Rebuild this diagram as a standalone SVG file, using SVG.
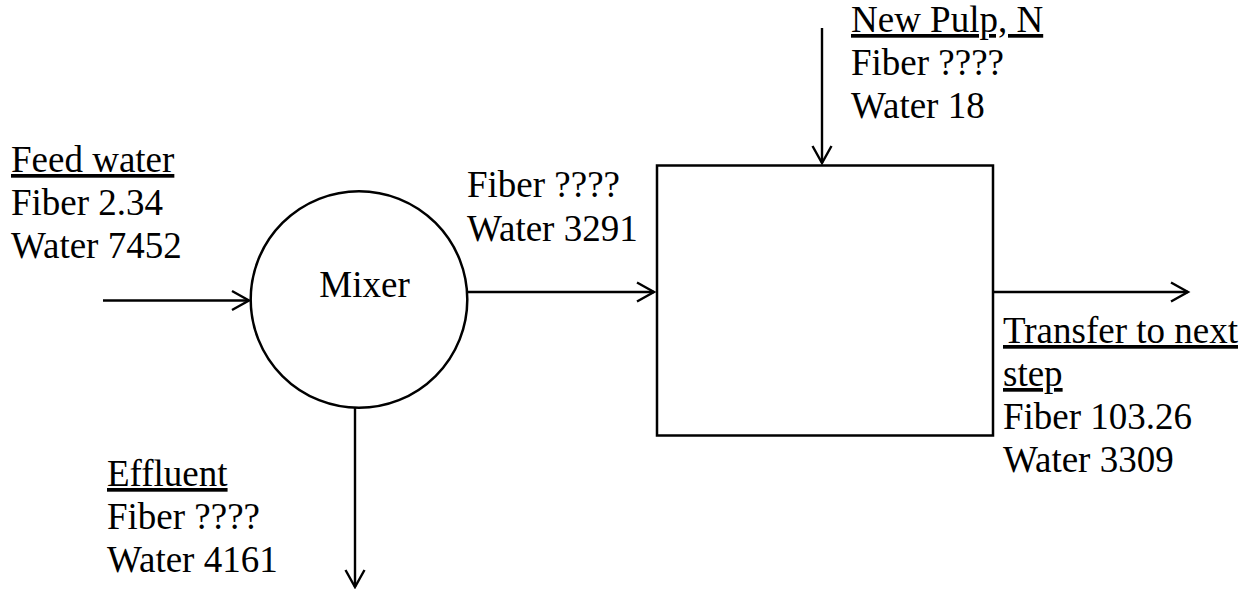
<svg xmlns="http://www.w3.org/2000/svg" width="1257" height="589" viewBox="0 0 1257 589">
<defs>
<marker id="arr" markerUnits="userSpaceOnUse" markerWidth="24" markerHeight="24" viewBox="-20 -12 24 24" refX="0" refY="0" orient="auto" overflow="visible">
<polyline points="-17,-9.5 0,0 -17,9.5" fill="none" stroke="#000" stroke-width="2.4"/>
</marker>
<style>
text{font-size:37px;fill:#000}
.u{text-decoration:underline}
.shape{fill:#fff;stroke:#000;stroke-width:2.5}
.conn{fill:none;stroke:#000;stroke-width:2.4;marker-end:url(#arr)}
</style>
</defs>
<rect width="1257" height="589" fill="#fff"/>
<g id="connectors">
<line class="conn" x1="103" y1="300.5" x2="249" y2="300.5"/>
<line class="conn" x1="467" y1="292" x2="654" y2="292"/>
<line class="conn" x1="822" y1="28" x2="822" y2="163"/>
<line class="conn" x1="993" y1="292" x2="1188" y2="292"/>
<line class="conn" x1="355" y1="408" x2="355" y2="587"/>
</g>
<g font-family="'Times New Roman', 'Liberation Serif', 'DejaVu Serif', serif">
<g id="mixer">
<circle class="shape" cx="359" cy="299.5" r="108.3"/>
<text x="364.5" y="297" text-anchor="middle">Mixer</text>
</g>
<g id="process">
<rect class="shape" x="657" y="165.5" width="336" height="270"/>
</g>
<g id="feed-label">
<text x="11" y="172" class="u">Feed water</text>
<text x="11" y="215">Fiber 2.34</text>
<text x="11" y="258">Water 7452</text>
</g>
<g id="mid-label">
<text x="467" y="197">Fiber ????</text>
<text x="467" y="240.5">Water 3291</text>
</g>
<g id="newpulp-label">
<text x="851" y="32" class="u">New Pulp, N</text>
<text x="851" y="75">Fiber ????</text>
<text x="851" y="118">Water 18</text>
</g>
<g id="transfer-label">
<text x="1003" y="343" class="u">Transfer to next</text>
<text x="1003" y="386" class="u">step</text>
<text x="1003" y="429">Fiber 103.26</text>
<text x="1003" y="472">Water 3309</text>
</g>
<g id="effluent-label">
<text x="107" y="486" class="u">Effluent</text>
<text x="107" y="529">Fiber ????</text>
<text x="107" y="572">Water 4161</text>
</g>
</g>
</svg>
